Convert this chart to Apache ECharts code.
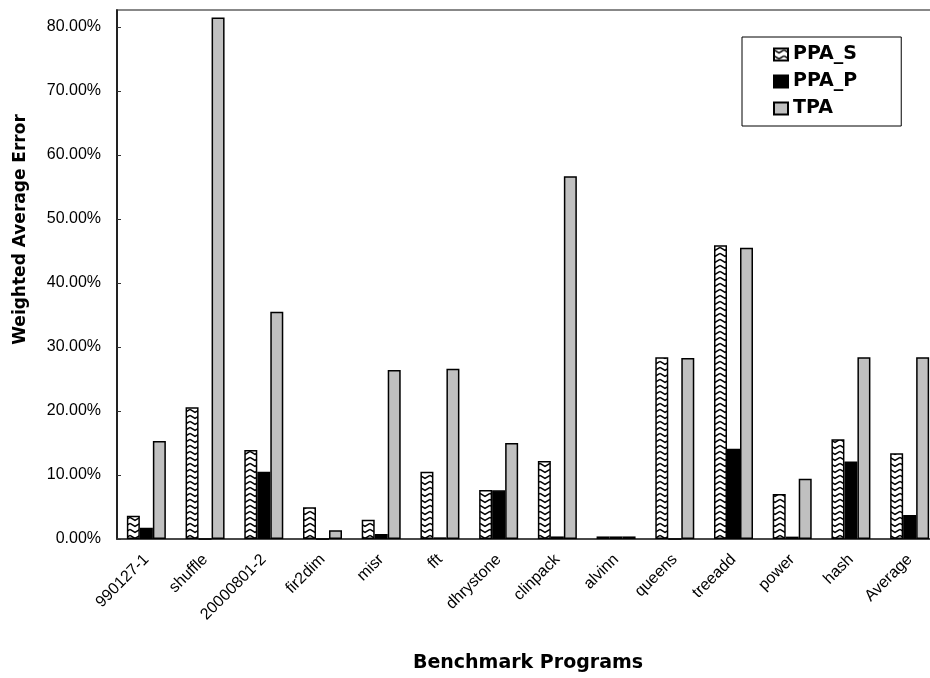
<!DOCTYPE html>
<html>
<head>
<meta charset="utf-8">
<script src="https://cdn.jsdelivr.net/npm/echarts@6/dist/echarts.min.js"></script>
<style>
  html, body { margin: 0; padding: 0; background: #fff; }
  #chart { width: 930px; height: 678px; }
</style>
</head>
<body>
<div id="chart"></div>
<script>
// benchmark names
const programs = ['990127-1', 'shuffle', '20000801-2', 'fir2dim', 'misr', 'fft', 'dhrystone',
  'clinpack', 'alvinn', 'queens', 'treeadd', 'power', 'hash', 'Average']

// weighted average error (%)
const ppaS = [3.64, 20.6, 13.9, 4.95, 3.0, 10.5, 7.66, 12.2, 0.4, 28.4, 45.9, 7.03, 15.6, 13.4]
const ppaP = [1.77, 0, 10.5, 0, 0.78, 0.26, 7.6, 0.4, 0.4, 0, 14.1, 0.37, 12.1, 3.75]
const tpa = [15.3, 81.5, 35.5, 1.35, 26.4, 26.6, 15.0, 56.7, 0.4, 28.3, 45.5, 9.4, 28.4, 28.4]

const yTicks = [0, 10, 20, 30, 40, 50, 60, 70, 80]

// zigzag fill for PPA_S
function zigzag() {
  const c = document.createElement('canvas')
  c.width = 10
  c.height = 6
  const ctx = c.getContext('2d')
  ctx.fillStyle = '#fff'
  ctx.fillRect(0, 0, 10, 6)
  ctx.strokeStyle = '#000'
  ctx.lineWidth = 1.5
  ctx.beginPath()
  ctx.moveTo(0, 1.5)
  ctx.lineTo(5, 4.5)
  ctx.lineTo(10, 1.5)
  ctx.stroke()
  return c
}

const chart = echarts.init(document.getElementById('chart'), null, { renderer: 'canvas' })

const boldFont = 'DejaVu Sans'
const plainFont = 'Liberation Sans'

chart.setOption({
  animation: false,
  backgroundColor: '#fff',
  grid: {
    left: 117, top: 10, width: 822, height: 529,
    outerBoundsMode: 'none', containLabel: false,
    show: true, borderColor: '#888', borderWidth: 2, backgroundColor: 'transparent'
  },
  legend: {
    orient: 'vertical',
    left: 742, top: 37,
    data: ['PPA_S', 'PPA_P', 'TPA'],
    icon: 'rect',
    itemWidth: 14, itemHeight: 12, itemGap: 8,
    padding: [8, 44, 8, 31],
    borderColor: '#000', borderWidth: 1,
    textStyle: { fontFamily: boldFont, fontWeight: 'bold', fontSize: 19, color: '#000', lineHeight: 18 }
  },
  xAxis: {
    type: 'category',
    data: programs,
    name: 'Benchmark Programs',
    nameLocation: 'middle',
    nameGap: 115,
    nameTextStyle: { fontFamily: boldFont, fontWeight: 'bold', fontSize: 19, color: '#000' },
    axisLine: { lineStyle: { color: '#333', width: 1.5 } },
    axisTick: { inside: true, length: 5, lineStyle: { color: '#555' } },
    axisLabel: { rotate: 45, margin: 18, fontFamily: plainFont, fontSize: 16, color: '#000', interval: 0 }
  },
  yAxis: {
    type: 'value',
    min: 0, max: 82.66, interval: 10,
    name: 'Weighted Average Error',
    nameLocation: 'middle',
    nameGap: 88,
    nameTextStyle: { fontFamily: boldFont, fontWeight: 'bold', fontSize: 17, color: '#000', padding: [0, 0, 0, 90] },
    axisLine: { show: true, lineStyle: { color: '#000', width: 1.5 } },
    axisTick: { show: true, inside: true, length: 4, customValues: yTicks, lineStyle: { color: '#333' } },
    axisLabel: {
      customValues: yTicks, margin: 16, fontFamily: plainFont, fontSize: 16, color: '#000',
      formatter: v => v.toFixed(2) + '%'
    },
    splitLine: { show: false }
  },
  series: [
    {
      name: 'PPA_S', type: 'bar', data: ppaS, barWidth: 13, barGap: '0%',
      itemStyle: { color: { image: zigzag(), repeat: 'repeat' }, borderColor: '#000', borderWidth: 1.5 }
    },
    {
      name: 'PPA_P', type: 'bar', data: ppaP, barWidth: 13, barGap: '0%',
      itemStyle: { color: '#000', borderColor: '#000', borderWidth: 1.5 }
    },
    {
      name: 'TPA', type: 'bar', data: tpa, barWidth: 13, barGap: '0%',
      itemStyle: { color: '#c0c0c0', borderColor: '#000', borderWidth: 1.5 }
    }
  ]
})
</script>
</body>
</html>
